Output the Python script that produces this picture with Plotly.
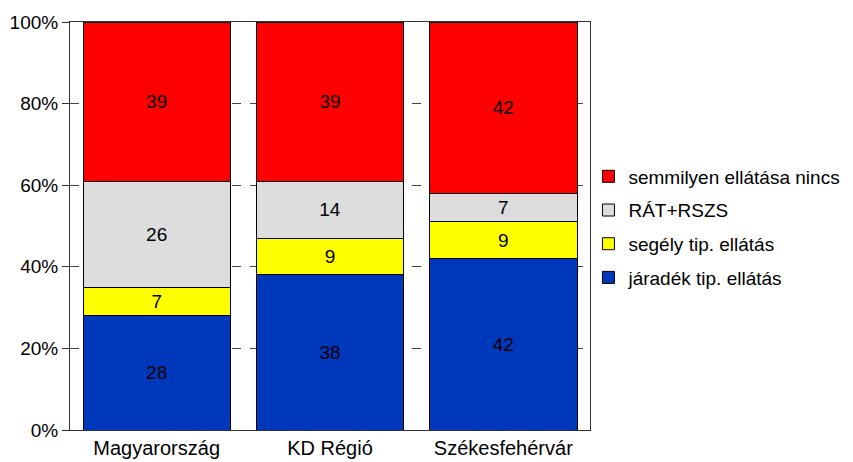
import plotly.graph_objects as go

# categories and series values (percent)
categories = ['Magyarország', 'KD Régió', 'Székesfehérvár']
jaradek = [28, 38, 42]
segely = [7, 9, 9]
rat_rszs = [26, 14, 7]
semmilyen = [39, 39, 42]

series = [
	('járadék tip. ellátás', jaradek, '#0038BC'),
	('segély tip. ellátás', segely, '#FFFF00'),
	('RÁT+RSZS', rat_rszs, '#DDDDDD'),
	('semmilyen ellátása nincs', semmilyen, '#FF0000'),
]

fig = go.Figure()

for i, (name, vals, color) in enumerate(series):
	fig.add_trace(go.Bar(x=categories, y=vals, name=name,
						 legendgroup=name,
						 # top series first in the legend
						 legendrank=1000 - i,
						 marker=dict(color=color, line=dict(color='black', width=1)),
						 text=[str(v) for v in vals],
						 textposition='inside',
						 insidetextanchor='middle',
						 textangle=0,
						 textfont=dict(size=19, color='black', family='Liberation Sans')))

# the page body adds an 8px offset, so margins are shifted to compensate
fig.update_layout(barmode='stack',
				  bargap=0.15,
				  width=853, height=462,
				  margin=dict(l=62, r=271, t=14, b=40, autoexpand=False),
				  paper_bgcolor='white',
				  plot_bgcolor='white',
				  font=dict(family='Liberation Sans', size=19, color='black'),
				  legend=dict(x=0.997, y=0.668, xanchor='left', yanchor='top',
							  bgcolor='rgba(0,0,0,0)',
							  traceorder='grouped', tracegroupgap=6,
							  font=dict(size=19)),
				  xaxis=dict(showline=True, linecolor='#333333', mirror=True, automargin=False,
							 ticks='', range=[-0.5, 2.5], tickfont=dict(size=20)),
				  yaxis=dict(range=[0, 100], dtick=20, ticksuffix='%', automargin=False,
							 showgrid=True, gridcolor='#444444', griddash='dash', gridwidth=1,
							 showline=True, linecolor='#333333', mirror=True,
							 ticks='outside', ticklen=7, tickcolor='#333333',
							 tickfont=dict(size=19), zeroline=False))

fig.write_html('out.html')
